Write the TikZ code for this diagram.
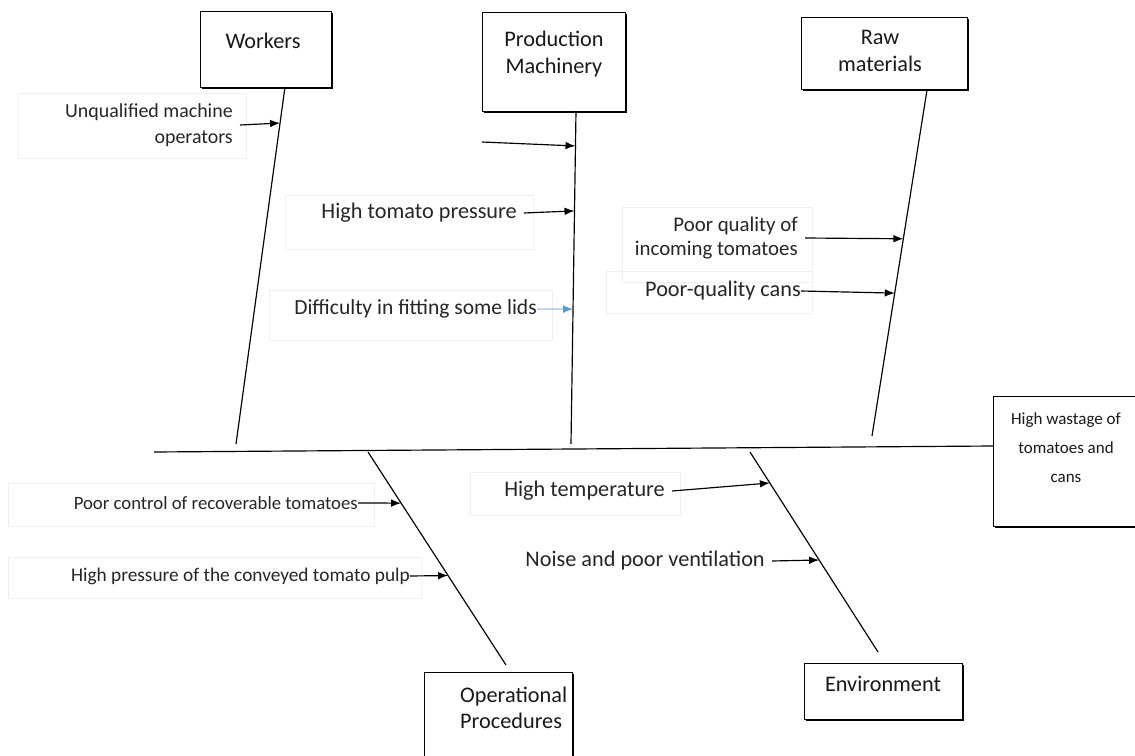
\documentclass[tikz,border=0pt]{standalone}
\usepackage{fontspec}
\setmainfont{Carlito}
\usetikzlibrary{fit,shadows,arrows.meta}
\definecolor{lidblue}{RGB}{91,155,213}
\tikzstyle{catbox} = [draw=black, line width=0.8pt, fill=white, inner sep=0pt, drop shadow={shadow xshift=1.3pt, shadow yshift=-1.3pt, opacity=1, fill=black}]
\tikzstyle{title} = [font=\fontsize{19}{23}\selectfont, align=center, text=black!90, inner sep=0pt]
\tikzstyle{cause} = [font=\fontsize{16.5}{22}\selectfont, align=right, anchor=east, inner xsep=6pt, inner ysep=0pt, text=black!85]
\tikzstyle{wide} = [font=\fontsize{19}{22}\selectfont]
\tikzstyle{tight} = [inner xsep=0pt]
\tikzstyle{faint} = [draw=black!6, line width=0.5pt]
\tikzstyle{bone} = [line width=1pt]
\tikzstyle{into} = [-{Latex[length=8.5pt,width=6.5pt]}, line width=1pt]

\begin{document}
\begin{tikzpicture}[x=0.03cm, y=-0.03cm]
  \useasboundingbox[fill=white] (0,0) rectangle (1135,756);
  % faint frames of the text boxes
  \draw[faint] (18,93) rectangle (246,158);
  \draw[faint] (285,195) rectangle (533,249);
  \draw[faint] (269,290) rectangle (552,340);
  \draw[faint] (622,207) rectangle (812,282);
  \draw[faint] (606,271) rectangle (812,313);
  \draw[faint] (8,483) rectangle (374,526);
  \draw[faint] (8,557) rectangle (421,598);
  \draw[faint] (470,472) rectangle (680,515);
  % category boxes
  \node[catbox, fit={(200,11) (331,87)}] (workers) {};
  \node[catbox, fit={(482,12) (625,111)}] (machinery) {};
  \node[catbox, fit={(801,17) (967,89)}] (raw) {};
  \node[catbox, fit={(424,672) (572,780)}] (procedures) {};
  \node[catbox, fit={(804,663) (962,719)}] (environment) {};
  \node[catbox, fit={(993,396) (1145,526)}] (wastage) {};
  \node[title] (workersT) at (263,41) {Workers};
  \node[title] (machineryT) at (554,54) {Production\\Machinery};
  \node[title] (rawT) at (880,51) {Raw\\materials};
  \node[title, anchor=west, align=left, font=\fontsize{19}{22}\selectfont] (proceduresT) at (460,708) {Operational\\Procedures};
  \node[title] (environmentT) at (883,684) {Environment};
  \node[title, font=\fontsize{14.5}{24.7}\selectfont] (wastageT) at (1066,448) {High wastage of\\tomatoes and\\cans};
  % spine and bones
  \coordinate (spineL) at (154,452);
  \coordinate (spineR) at (993,446);
  \draw[bone] (spineL) -- (spineR);
  \draw[bone] (285,87) -- (236,444)
    coordinate[pos=0.101] (w1);
  \draw[bone] (576,111) -- (571,444)
    coordinate[pos=0.105] (m1) coordinate[pos=0.30] (m2) coordinate[pos=0.595] (m3);
  \draw[bone] (927,90) -- (872,436)
    coordinate[pos=0.43] (r1) coordinate[pos=0.587] (r2);
  \draw[bone] (368,452) -- (506,665)
    coordinate[pos=0.24] (p1) coordinate[pos=0.58] (p2);
  \draw[bone] (750,452) -- (878,652)
    coordinate[pos=0.155] (e1) coordinate[pos=0.54] (e2);
  % causes
  \node[cause, font=\fontsize{17}{22}\selectfont] (operators) at (240,125) {Unqualified machine\\operators};
  \coordinate (mFree) at (482,142);
  \node[cause, wide] (pressure) at (524,213) {High tomato pressure};
  \node[cause, tight, font=\fontsize{18.4}{22}\selectfont] (lids) at (537,309) {Difficulty in fitting some lids};
  \node[cause, font=\fontsize{17.8}{20.4}\selectfont] (incoming) at (805,238) {Poor quality of\\incoming tomatoes};
  \node[cause, tight, wide] (cans) at (801,291) {Poor-quality cans};
  \node[cause, tight, font=\fontsize{16}{20}\selectfont] (recover) at (358,503) {Poor control of recoverable tomatoes};
  \node[cause, tight] (pulp) at (410,576) {High pressure of the conveyed tomato pulp};
  \node[cause, wide] (temperature) at (672,491) {High temperature};
  \node[cause, wide] (noise) at (772,561) {Noise and poor ventilation};
  \draw[into] (operators.east) -- (w1);
  \draw[into] (mFree) -- (m1);
  \draw[into] (pressure.east) -- (m2);
  \draw[into, draw=lidblue, fill=lidblue, line width=0.6pt] (lids.east) -- (m3);
  \draw[into] (incoming.east) -- (r1);
  \draw[into] (cans.east) -- (r2);
  \draw[into] (recover.east) -- (p1);
  \draw[into] (pulp.east) -- (p2);
  \draw[into] (temperature.east) -- (e1);
  \draw[into] (noise.east) -- (e2);
\end{tikzpicture}
\end{document}
